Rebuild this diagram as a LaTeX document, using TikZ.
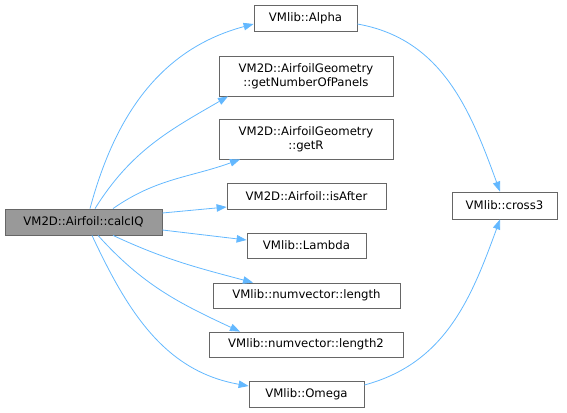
\documentclass[tikz,border=0pt]{standalone}
\usepackage{fontspec}
\setmainfont{DejaVu Sans}
\usetikzlibrary{arrows.meta}
\definecolor{edgeblue}{HTML}{63B8FF}
\definecolor{boxgray}{HTML}{666666}
\definecolor{focusfill}{HTML}{999999}
\begin{document}
\begin{tikzpicture}[x=1pt,y=-1pt,
  box/.style={draw=boxgray, line width=0.8pt, fill=white, rectangle, inner sep=0pt, align=center,
    font=\fontsize{11.7}{14}\selectfont, text=black},
  focus/.style={box, fill=focusfill},
  call/.style={draw=edgeblue, line width=0.8pt, -{Triangle[length=10pt,width=7.5pt]}}
]
\useasboundingbox (0,0) rectangle (567,412);
\node[focus, minimum width=157, minimum height=26] (calc) at (83.5,222) {VM2D::Airfoil::calcIQ};
\node[box, minimum width=103, minimum height=26] (alpha) at (305.5,18) {VMlib::Alpha};
\node[box, minimum width=174, minimum height=40] (gnp) at (306,76) {VM2D::AirfoilGeometry\\::getNumberOfPanels};
\node[box, minimum width=174, minimum height=40] (getr) at (306,139) {VM2D::AirfoilGeometry\\::getR};
\node[box, minimum width=159, minimum height=26] (isafter) at (306.5,196) {VM2D::Airfoil::isAfter};
\node[box, minimum width=119, minimum height=25] (lambda) at (306.5,245.5) {VMlib::Lambda};
\node[box, minimum width=187, minimum height=25] (len) at (306.5,295.5) {VMlib::numvector::length};
\node[box, minimum width=194, minimum height=25] (len2) at (306,344.5) {VMlib::numvector::length2};
\node[box, minimum width=115, minimum height=26] (omega) at (306.5,394) {VMlib::Omega};
\node[box, minimum width=105, minimum height=27] (cross) at (504.5,205.5) {VMlib::cross3};

\draw[call] ([xshift=6.5pt]calc.north) to[out=75,in=195] ([yshift=-6pt]alpha.west);
\draw[call] ([xshift=11.5pt]calc.north) to[out=58,in=210] ([xshift=-78pt]gnp.south);
\draw[call] ([xshift=29.5pt]calc.north) to[out=35,in=200] ([xshift=-66pt]getr.south);
\draw[call] ([yshift=9pt]calc.east) -- ([yshift=-11pt]isafter.west);
\draw[call] ([yshift=-8pt]calc.east) -- ([yshift=5.5pt]lambda.west);
\draw[call] ([xshift=29.5pt]calc.south) to[out=-25,in=165] ([xshift=-53.5pt]len.north);
\draw[call] ([xshift=14.5pt]calc.south) to[out=-48,in=155] ([xshift=-66pt]len2.north);
\draw[call] ([xshift=8.5pt]calc.south) to[out=-65,in=170] ([yshift=8pt]omega.west);
\draw[call] ([yshift=-6pt]alpha.east) to[out=-10,in=110] ([xshift=-4.5pt]cross.north);
\draw[call] ([yshift=9pt]omega.east) to[out=15,in=-110] ([xshift=-4.5pt]cross.south);
\end{tikzpicture}
\end{document}
